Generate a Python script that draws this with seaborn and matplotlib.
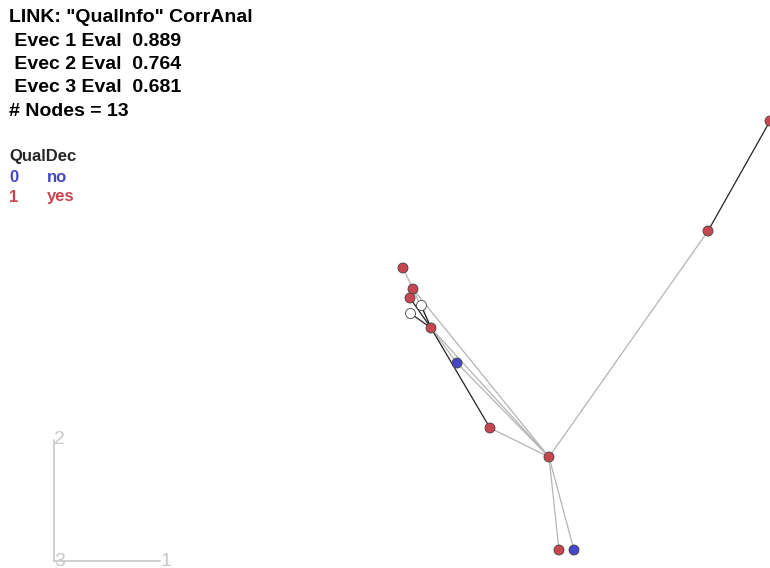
import matplotlib
matplotlib.use("Agg")
import matplotlib.pyplot as plt
import seaborn as sns
import pandas as pd
import numpy as np

# Correspondence-analysis scores of the 13 nodes (dimension 1 right, dimension 2 up)
node_ids = list(range(1, 14))
dim1 = [3.49, 3.59, 3.56, 3.67, 3.56, 3.77, 4.03, 4.36, 4.95, 5.05, 5.20, 6.54, 7.16]
dim2 = [2.93, 2.72, 2.63, 2.56, 2.48, 2.33, 1.98, 1.33, 1.04, 0.11, 0.11, 3.30, 4.40]
qual_dec = ["yes", "yes", "yes", None, None, "yes", "no", "yes", "yes", "yes", "no", "yes", "yes"]

# Links between nodes: (from, to, strong)
edges_from = [1, 2, 2, 3, 4, 5, 6, 6, 6, 7, 8, 9, 9, 9, 12]
edges_to   = [2, 6, 9, 6, 6, 6, 7, 8, 9, 9, 9, 10, 11, 12, 13]
edges_strong = [False, False, False, True, True, True, False, True, False, False, False, False, False, False, True]

eigen_values = [0.889, 0.764, 0.681]
n_nodes = 13

sns.set_style("white")
plt.rcParams["font.family"] = ["Liberation Sans", "DejaVu Sans"]

fig = plt.figure(figsize=(7.7, 5.68), dpi=100)
ax = fig.add_axes([0, 0, 1, 1])
ax.set_xlim(-0.54, 7.16)
ax.set_ylim(-0.07, 5.61)
ax.axis("off")

df = pd.DataFrame({"node": node_ids, "dim1": dim1, "dim2": dim2, "QualDec": qual_dec})

# Links
for a, b, strong in zip(edges_from, edges_to, edges_strong):
    ra = df.loc[df.node == a].iloc[0]
    rb = df.loc[df.node == b].iloc[0]
    ax.plot([ra.dim1, rb.dim1], [ra.dim2, rb.dim2],
            color="#222222" if strong else "#b4b4b4",
            lw=0.9, zorder=1)

palette = {"no": "#4646c8", "yes": "#c84650"}
known = df[df.QualDec.notna()]
sns.scatterplot(data=known, x="dim1", y="dim2", hue="QualDec", palette=palette,
                s=52, edgecolor="#444444", linewidth=0.6, legend=False, ax=ax, zorder=3)
unknown = df[df.QualDec.isna()]
sns.scatterplot(data=unknown, x="dim1", y="dim2", color="white",
                s=52, edgecolor="#444444", linewidth=0.6, legend=False, ax=ax, zorder=3)

# Axis glyph for dimensions 1, 2, 3
axis_col = "#c8c8c8"
ax.plot([0, 0], [0, 1.21], color=axis_col, lw=1.2)
ax.plot([0, 1.06], [0, 0], color=axis_col, lw=1.2)
ax.text(0.0, 1.21, "2", color=axis_col, fontsize=14, ha="left", va="center")
ax.text(0.0, 0.0, "3", color=axis_col, fontsize=14, ha="left", va="center")
ax.text(1.06, 0.0, "1", color=axis_col, fontsize=14, ha="left", va="center")

# Header text
header = ['LINK: "QualInfo" CorrAnal'] + \
    [f" Evec {i + 1} Eval  {v:.3f}" for i, v in enumerate(eigen_values)] + \
    [f"# Nodes = {n_nodes}"]
for i, line in enumerate(header):
    fig.text(9 / 770, 1 - (18 + 23.3 * i) / 568, line, fontsize=14, fontweight="bold",
             ha="left", va="center", color="black")

# Legend
fig.text(9 / 770, 1 - 157 / 568, "QualDec", fontsize=12, fontweight="bold",
         ha="left", va="center")
for j, (code, lab) in enumerate([("0", "no"), ("1", "yes")]):
    y = 1 - (177 + 20 * j) / 568
    fig.text(9 / 770, y, code, fontsize=12, fontweight="bold", color=palette[lab],
             ha="left", va="center")
    fig.text(47 / 770, y, lab, fontsize=12, fontweight="bold", color=palette[lab],
             ha="left", va="center")

fig.savefig("out.png", dpi=100)
